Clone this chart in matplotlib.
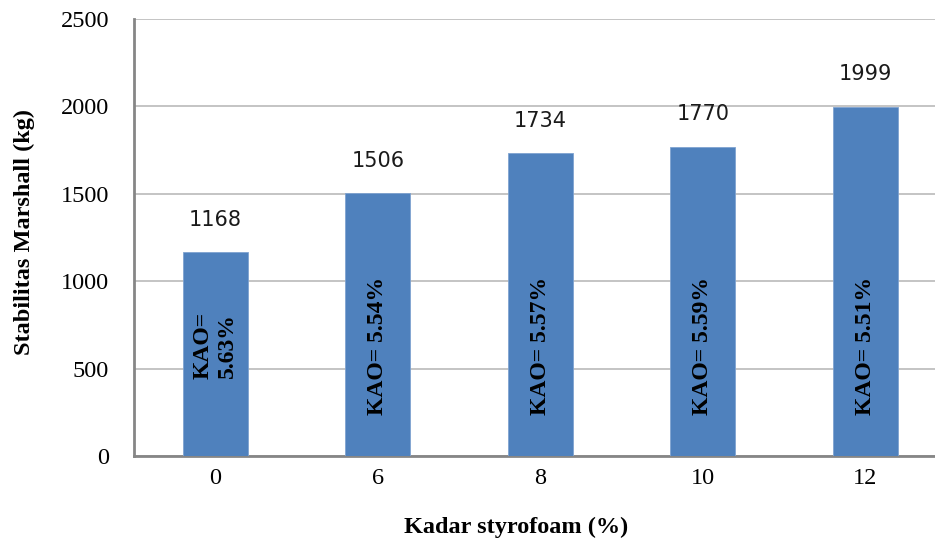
"""
Bar chart: Stabilitas Marshall vs Kadar styrofoam
"""
import matplotlib
matplotlib.use("Agg")
import matplotlib.pyplot as plt

# data
kadar = ["0", "6", "8", "10", "12"]
stabilitas = [1168, 1506, 1734, 1770, 1999]
kao_labels = ["KAO=\n5.63%", "KAO= 5.54%", "KAO= 5.57%", "KAO= 5.59%", "KAO= 5.51%"]

W, H = 935, 540
fig = plt.figure(figsize=(W / 100, H / 100), dpi=100)
# plot area in pixels: left 134, top 19, bottom 456, one category = 162.5 px
ax = fig.add_axes([134 / W, (H - 456) / H, 812.5 / W, 437 / H])

x = range(len(kadar))
bars = ax.bar(x, stabilitas, width=0.4, color="#4F81BD", edgecolor="#7FA3D0",
              linewidth=0.6, zorder=3)

ax.set_xlim(-0.5, 4.5)
ax.set_ylim(0, 2500)
ax.set_yticks(range(0, 2501, 500))
ax.set_xticks(list(x))
ax.set_xticklabels(kadar)

ax.grid(axis="y", color="#c4c4c4", linewidth=1.4, zorder=0)
for side in ["top", "right"]:
    ax.spines[side].set_visible(False)
for side in ["left", "bottom"]:
    ax.spines[side].set_color("#868686")
    ax.spines[side].set_linewidth(2)

ax.tick_params(axis="both", length=0, labelsize=17.5)
ax.tick_params(axis="y", pad=18)
ax.tick_params(axis="x", pad=9)
for lab in ax.get_xticklabels() + ax.get_yticklabels():
    lab.set_family("Liberation Serif")

# value labels above bars
for b, v in zip(bars, stabilitas):
    ax.annotate(f"{v}", (b.get_x() + b.get_width() / 2, v),
                xytext=(0, 16), textcoords="offset points",
                ha="center", va="bottom", fontsize=15, family="DejaVu Sans",
                color="#1a1a1a")

# KAO labels inside bars
for i, t in zip(x, kao_labels):
    ax.text(i, 630, t, rotation=90, ha="center", va="center",
            fontsize=17, weight="bold", family="Liberation Serif",
            multialignment="center", linespacing=1.25, zorder=4)

fig.text(24 / W, 1 - 232 / H, "Stabilitas Marshall (kg)", rotation=90,
         ha="center", va="center", fontsize=17.5, weight="bold",
         family="Liberation Serif")
fig.text(516 / W, 1 - 527 / H, "Kadar styrofoam (%)",
         ha="center", va="center", fontsize=17.5, weight="bold",
         family="Liberation Serif")

fig.savefig("out.png", dpi=100)
